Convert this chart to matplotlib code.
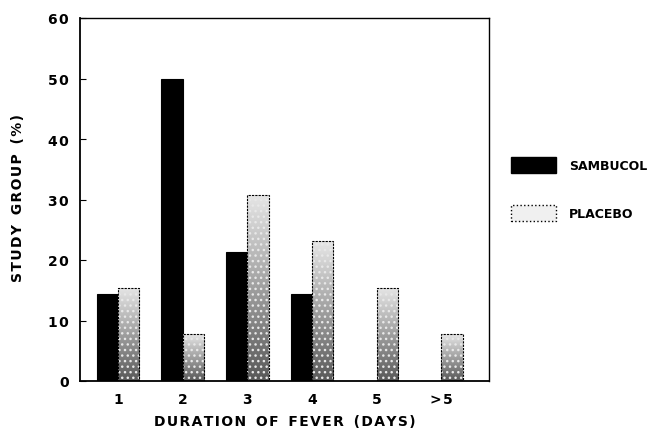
import numpy as np
import matplotlib
matplotlib.use("Agg")
import matplotlib.pyplot as plt
from matplotlib.patches import Patch

# data
categories = ["1", "2", "3", "4", "5", ">5"]
sambucol = [14.3, 50.0, 21.4, 14.3, 0, 0]
placebo = [15.4, 7.7, 30.8, 23.1, 15.4, 7.7]

plt.rcParams["font.family"] = ["DejaVu Sans"]
plt.rcParams["font.weight"] = "bold"


def spaced(s):
    # the scanned figure uses widely tracked lettering
    return "\u200a".join(s)


fig = plt.figure(figsize=(6.56, 4.39), dpi=100)
ax = fig.add_axes([80 / 656, 57 / 439, 409 / 656, 363 / 439])

x = np.arange(len(categories))
w = 0.33

ax.bar(x - w / 2, sambucol, w, color="black", edgecolor="black", linewidth=0.8)

# placebo: stippled grey, darker toward the bottom
grad = np.linspace(0.35, 0.9, 64).reshape(-1, 1)
pbars = ax.bar(x + w / 2, placebo, w, color="none", edgecolor="black", linewidth=0.8,
               linestyle=(0, (2, 1)), zorder=3)
for b in pbars:
    x0, h = b.get_x(), b.get_height()
    im = ax.imshow(grad, extent=[x0, x0 + b.get_width(), 0, h], origin="lower",
                   cmap="gray", vmin=0, vmax=1, aspect="auto", zorder=2)
    im.set_clip_path(b)
ax.bar(x + w / 2, placebo, w, color="none", edgecolor="#e8e8e8", hatch="...",
       linewidth=0, zorder=2.5)

ax.set_xlim(-0.59, 5.74)
ax.set_ylim(0, 60)
ax.set_yticks(range(0, 61, 10))
ax.set_yticklabels([spaced(str(v)) for v in range(0, 61, 10)])
ax.set_xticks(x)
ax.set_xticklabels([spaced(c) for c in categories])
ax.tick_params(axis="y", direction="in", length=4, pad=8, labelsize=10)
ax.tick_params(axis="x", length=0, pad=8, labelsize=10)
for lab in ax.get_xticklabels() + ax.get_yticklabels():
    lab.set_fontweight("bold")

ax.set_xlabel("  ".join(spaced(wd) for wd in ["DURATION", "OF", "FEVER", "(DAYS)"]),
              fontsize=10, fontweight="bold", labelpad=6)
ax.set_ylabel("  ".join(spaced(wd) for wd in ["STUDY", "GROUP", "(%)"]),
              fontsize=10, fontweight="bold")
ax.yaxis.set_label_coords(-0.134, 0.508)

for s in ax.spines.values():
    s.set_linewidth(1.0)
ax.spines["left"].set_linewidth(1.3)
ax.spines["bottom"].set_linewidth(1.3)

handles = [Patch(facecolor="black", edgecolor="black", label="SAMBUCOL"),
           Patch(facecolor="#f0f0f0", edgecolor="black", linestyle=":", linewidth=1.0,
                 label="PLACEBO")]
fig.legend(handles=handles, loc="upper left", bbox_to_anchor=(500 / 656, 1 - 147 / 439),
           frameon=False, handlelength=3.6, handleheight=1.6, labelspacing=2.55,
           handletextpad=1.0, prop={"weight": "bold", "size": 9})

fig.savefig("out.png", dpi=100)
